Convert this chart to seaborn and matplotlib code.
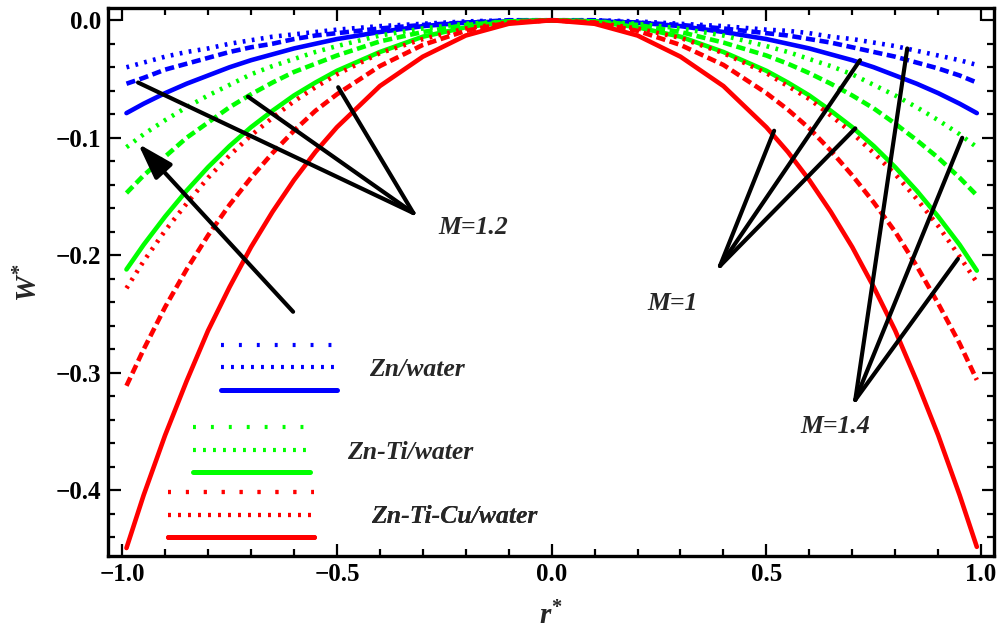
import matplotlib
matplotlib.use("Agg")
import matplotlib.pyplot as plt
from matplotlib.lines import Line2D
from matplotlib.ticker import MultipleLocator
import pandas as pd
import seaborn as sns

sns.set_style("ticks")
plt.rcParams['font.family'] = ['Liberation Serif', 'DejaVu Serif']
plt.rcParams['font.weight'] = 'bold'
plt.rcParams['mathtext.fontset'] = 'custom'
plt.rcParams['mathtext.it'] = 'Liberation Serif:italic:bold'
plt.rcParams['mathtext.rm'] = 'Liberation Serif:bold'
plt.rcParams['mathtext.bf'] = 'Liberation Serif:bold'

# radial positions
r = [-0.99, -0.95, -0.9, -0.85, -0.8, -0.75, -0.7, -0.65, -0.6, -0.55, -0.5, -0.4, -0.3, -0.2, -0.1, 0.0,
     0.1, 0.2, 0.3, 0.4, 0.5, 0.55, 0.6, 0.65, 0.7, 0.75, 0.8, 0.85, 0.9, 0.95, 0.99]

# Zn-Ti-Cu/water (red)
red_solid = [-0.449, -0.404, -0.353, -0.307, -0.264, -0.227, -0.193, -0.163, -0.136, -0.112, -0.091,
             -0.056, -0.031, -0.013, -0.003, 0.0, -0.003, -0.013, -0.031, -0.056, -0.091, -0.112,
             -0.136, -0.163, -0.193, -0.227, -0.264, -0.307, -0.353, -0.404, -0.448]
red_dashed = [-0.311, -0.280, -0.244, -0.212, -0.183, -0.157, -0.134, -0.113, -0.094, -0.077, -0.063,
              -0.039, -0.021, -0.009, -0.002, 0.0, -0.002, -0.009, -0.021, -0.038, -0.062, -0.076,
              -0.092, -0.111, -0.132, -0.155, -0.180, -0.209, -0.241, -0.275, -0.306]
red_dotted = [-0.228, -0.205, -0.179, -0.156, -0.134, -0.115, -0.098, -0.083, -0.069, -0.057, -0.046,
              -0.028, -0.016, -0.007, -0.002, 0.0, -0.002, -0.007, -0.015, -0.028, -0.045, -0.056,
              -0.067, -0.081, -0.096, -0.113, -0.131, -0.152, -0.175, -0.201, -0.223]
# Zn-Ti/water (green)
green_solid = [-0.212, -0.191, -0.167, -0.145, -0.125, -0.107, -0.091, -0.077, -0.064, -0.053, -0.043,
               -0.027, -0.014, -0.006, -0.001, 0.0, -0.001, -0.006, -0.014, -0.027, -0.043, -0.053,
               -0.064, -0.077, -0.091, -0.107, -0.125, -0.145, -0.167, -0.191, -0.213]
green_dashed = [-0.147, -0.132, -0.116, -0.100, -0.087, -0.074, -0.063, -0.053, -0.044, -0.037, -0.030,
                -0.018, -0.010, -0.004, -0.001, 0.0, -0.001, -0.004, -0.010, -0.019, -0.030, -0.037,
                -0.045, -0.054, -0.064, -0.075, -0.088, -0.102, -0.117, -0.134, -0.149]
green_dotted = [-0.108, -0.097, -0.085, -0.074, -0.064, -0.055, -0.046, -0.039, -0.033, -0.027, -0.022,
                -0.013, -0.007, -0.003, -0.001, 0.0, -0.001, -0.003, -0.007, -0.013, -0.022, -0.027,
                -0.033, -0.039, -0.046, -0.055, -0.064, -0.074, -0.085, -0.097, -0.108]
# Zn/water (blue)
blue_solid = [-0.079, -0.071, -0.062, -0.054, -0.047, -0.040, -0.034, -0.029, -0.024, -0.020, -0.016,
              -0.010, -0.005, -0.002, -0.001, 0.0, -0.001, -0.002, -0.005, -0.010, -0.016, -0.020,
              -0.024, -0.029, -0.034, -0.040, -0.047, -0.054, -0.062, -0.071, -0.079]
blue_dashed = [-0.054, -0.049, -0.042, -0.037, -0.032, -0.027, -0.023, -0.020, -0.016, -0.013, -0.011,
               -0.007, -0.004, -0.002, 0.000, 0.0, 0.000, -0.002, -0.004, -0.007, -0.011, -0.013,
               -0.016, -0.019, -0.023, -0.027, -0.031, -0.036, -0.041, -0.047, -0.053]
blue_dotted = [-0.040, -0.036, -0.031, -0.027, -0.024, -0.020, -0.017, -0.014, -0.012, -0.010, -0.008,
               -0.005, -0.003, -0.001, 0.000, 0.0, 0.000, -0.001, -0.003, -0.005, -0.008, -0.009,
               -0.011, -0.014, -0.016, -0.019, -0.022, -0.026, -0.030, -0.034, -0.038]

fluids = ['Zn/water', 'Zn-Ti/water', 'Zn-Ti-Cu/water']
fluid_colors = ['#0000ff', '#00ff00', '#ff0000']
styles = ['solid', 'dashed', 'dotted']

xticks = [-1.0, -0.5, 0.0, 0.5, 1.0]
xtick_labels = ['\u22121.0', '\u22120.5', '0.0', '0.5', '1.0']
yticks = [0.0, -0.1, -0.2, -0.3, -0.4]
ytick_labels = ['0.0', '\u22120.1', '\u22120.2', '\u22120.3', '\u22120.4']

ann_labels = ['M=1.2', 'M=1', 'M=1.4']
ann_label_pos = [(-0.264, -0.176), (0.222, -0.241), (0.579, -0.346)]
ann_hubs = [(-0.322, -0.164), (0.392, -0.209), (0.707, -0.323)]
ann_ends = [[(-0.963, -0.053), (-0.707, -0.065), (-0.497, -0.057)],
            [(0.518, -0.094), (0.718, -0.034), (0.707, -0.092)],
            [(0.828, -0.024), (0.956, -0.100), (0.946, -0.203)]]
arrow_tail = (-0.602, -0.248)
arrow_head = (-0.963, -0.105)

curves = {
    ('Zn-Ti-Cu/water', 'solid'): red_solid,
    ('Zn-Ti-Cu/water', 'dashed'): red_dashed,
    ('Zn-Ti-Cu/water', 'dotted'): red_dotted,
    ('Zn-Ti/water', 'solid'): green_solid,
    ('Zn-Ti/water', 'dashed'): green_dashed,
    ('Zn-Ti/water', 'dotted'): green_dotted,
    ('Zn/water', 'solid'): blue_solid,
    ('Zn/water', 'dashed'): blue_dashed,
    ('Zn/water', 'dotted'): blue_dotted,
}
rows = []
for (fluid, style), vals in curves.items():
    rows += [{'r': x, 'W': w, 'fluid': fluid, 'style': style} for x, w in zip(r, vals)]
df = pd.DataFrame(rows)

fig, ax = plt.subplots(figsize=(10, 6.35), dpi=100)
fig.subplots_adjust(left=0.108, right=0.994, bottom=0.124, top=0.987)

sns.lineplot(data=df, x='r', y='W', hue='fluid', style='style',
             hue_order=fluids, style_order=styles,
             palette=dict(zip(fluids, fluid_colors)),
             dashes={'solid': '', 'dashed': (2.0, 1.0), 'dotted': (0.6, 1.4)},
             linewidth=3.3, estimator=None, sort=False, legend=False, ax=ax)

ax.set_xlim(-1.033, 1.030)
ax.set_ylim(-0.456, 0.0102)
ax.set_xticks(xticks, labels=xtick_labels)
ax.set_yticks(yticks, labels=ytick_labels)
ax.xaxis.set_minor_locator(MultipleLocator(0.1))
ax.yaxis.set_minor_locator(MultipleLocator(0.02))
ax.tick_params(which='both', direction='in', top=True, right=True, width=1.6,
               color='black', labelsize=18, labelcolor='black')
ax.tick_params(which='major', length=9, pad=5)
ax.tick_params(which='minor', length=5)
for sp in ax.spines.values():
    sp.set_linewidth(2.4)
    sp.set_color('black')

ax.set_xlabel(r'$r^{*}$', fontsize=21, labelpad=11)
ax.set_ylabel(r'$W^{*}$', fontsize=21, labelpad=9)

# annotation pointers
for label, lpos, hub, ends in zip(ann_labels, ann_label_pos, ann_hubs, ann_ends):
    for end in ends:
        ax.annotate('', xy=end, xytext=hub,
                    arrowprops=dict(arrowstyle='-', lw=3, color='black',
                                    shrinkA=0, shrinkB=0))
    ax.text(lpos[0], lpos[1], label, fontsize=18.5, style='italic',
            weight='bold', ha='left', va='center')
ax.annotate('', xy=arrow_head, xytext=arrow_tail,
            arrowprops=dict(arrowstyle='-|>,head_length=1.1,head_width=0.35',
                            mutation_scale=20, lw=3, color='black',
                            shrinkA=0, shrinkB=0))

# stacked legend samples, one block per fluid
leg_anchor = [(0.1275, 0.4015), (0.096, 0.2518), (0.0677, 0.1332)]
leg_hlen = [4.5, 4.55, 5.7]
leg_pad = [1.28, 1.44, 2.2]
for fluid, color, anchor, hl, pad in zip(fluids, fluid_colors, leg_anchor, leg_hlen, leg_pad):
    handles = [Line2D([], [], color=color, lw=3, linestyle=(0, (0.7, 3.6))),
               Line2D([], [], color=color, lw=3, linestyle=(0, (0.7, 1.7))),
               Line2D([], [], color=color, lw=3.6)]
    leg = ax.legend(handles, ['', fluid, ''], loc='upper left', bbox_to_anchor=anchor,
                    frameon=False, borderpad=0, borderaxespad=0, handlelength=hl,
                    handletextpad=pad, labelspacing=-0.03,
                    prop=dict(family='Liberation Serif', style='italic', weight='bold', size=18.5))
    ax.add_artist(leg)

fig.savefig('out.png', dpi=100)
